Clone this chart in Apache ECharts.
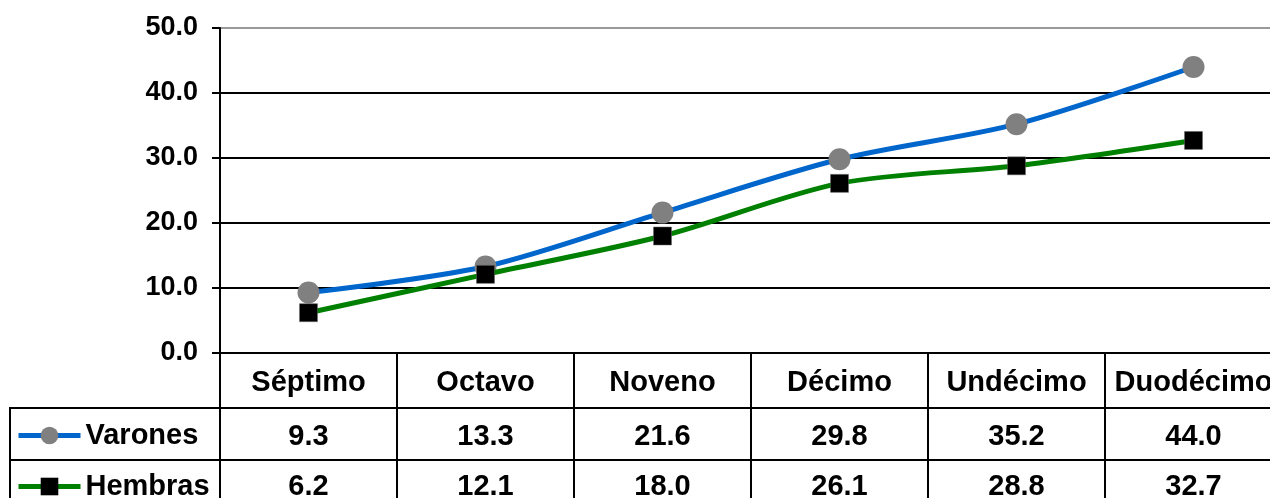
<!DOCTYPE html>
<html>
<head>
<meta charset="utf-8">
<script src="https://cdn.jsdelivr.net/npm/echarts@6/dist/echarts.min.js"></script>
<style>
  html, body { margin: 0; padding: 0; background: #fff; }
  #chart { width: 1270px; height: 498px; }
</style>
</head>
<body>
<div id="chart"></div>
<script>
const categories = ['Séptimo', 'Octavo', 'Noveno', 'Décimo', 'Undécimo', 'Duodécimo']
const varones = [9.3, 13.3, 21.6, 29.8, 35.2, 44.0]
const hembras = [6.2, 12.1, 18.0, 26.1, 28.8, 32.7]
const seriesNames = ['Varones', 'Hembras']

const font = 'Arial, "Liberation Sans", sans-serif'
const myChart = echarts.init(document.getElementById('chart'))

const cellText = { fontFamily: font, fontWeight: 'bold', fontSize: 29, color: '#000' }

const option = {
  animation: false,
  grid: {
    left: 220,
    top: 28,
    width: 1062,
    height: 325,
    outerBoundsMode: 'none'
  },
  legend: {
    orient: 'vertical',
    left: 16,
    top: 421,
    height: 120,
    padding: 0,
    itemWidth: 62,
    itemHeight: 22,
    itemGap: 22,
    data: [
      {
        name: seriesNames[0],
        itemStyle: { color: '#808080', borderWidth: 0 },
        lineStyle: { color: '#0066CC', width: 5 }
      },
      {
        name: seriesNames[1],
        itemStyle: { color: '#000', borderWidth: 0 },
        lineStyle: { color: '#008000', width: 5 }
      }
    ],
    textStyle: Object.assign({}, cellText, { lineHeight: 28 })
  },
  xAxis: {
    type: 'category',
    data: categories,
    boundaryGap: true,
    axisLine: { lineStyle: { color: '#000', width: 2 } },
    axisTick: {
      show: true,
      length: 150,
      lineStyle: { color: '#000', width: 2 }
    },
    axisLabel: {
      margin: 1,
      interval: 0,
      fontFamily: font,
      formatter: function (value, idx) {
        return '{h|' + value + '}\n{v|' + varones[idx].toFixed(1) + '}\n{w|' + hembras[idx].toFixed(1) + '}'
      },
      rich: {
        h: Object.assign({}, cellText, { lineHeight: 57 }),
        v: Object.assign({}, cellText, { lineHeight: 52 }),
        w: Object.assign({}, cellText, { lineHeight: 48 })
      }
    }
  },
  yAxis: {
    type: 'value',
    min: 0,
    max: 50,
    interval: 10,
    axisLine: { show: true, lineStyle: { color: '#000', width: 2 } },
    axisTick: { show: true, length: 8, lineStyle: { color: '#000', width: 2 } },
    axisLabel: {
      margin: 22,
      fontFamily: font,
      fontWeight: 'bold',
      fontSize: 27,
      color: '#000',
      formatter: function (v) { return v.toFixed(1) }
    },
    splitLine: {
      lineStyle: {
        color: ['#000', '#000', '#000', '#000', '#000', '#999'],
        width: 2
      }
    }
  },
  graphic: [
    { type: 'line', shape: { x1: 10, y1: 408, x2: 1270, y2: 408 }, style: { stroke: '#000', lineWidth: 2 } },
    { type: 'line', shape: { x1: 10, y1: 460, x2: 1270, y2: 460 }, style: { stroke: '#000', lineWidth: 2 } },
    { type: 'line', shape: { x1: 10, y1: 407, x2: 10, y2: 498 }, style: { stroke: '#000', lineWidth: 2 } }
  ],
  series: [
    {
      name: seriesNames[0],
      type: 'line',
      data: varones,
      smooth: 0.3,
      symbol: 'circle',
      symbolSize: 22,
      lineStyle: { color: '#0066CC', width: 5 },
      itemStyle: { color: '#808080' },
      z: 3
    },
    {
      name: seriesNames[1],
      type: 'line',
      data: hembras,
      smooth: 0.3,
      symbol: 'rect',
      symbolSize: 18,
      lineStyle: { color: '#008000', width: 5 },
      itemStyle: { color: '#000', borderColor: '#666', borderWidth: 0.5 },
      z: 4
    }
  ]
}

myChart.setOption(option)
</script>
</body>
</html>
